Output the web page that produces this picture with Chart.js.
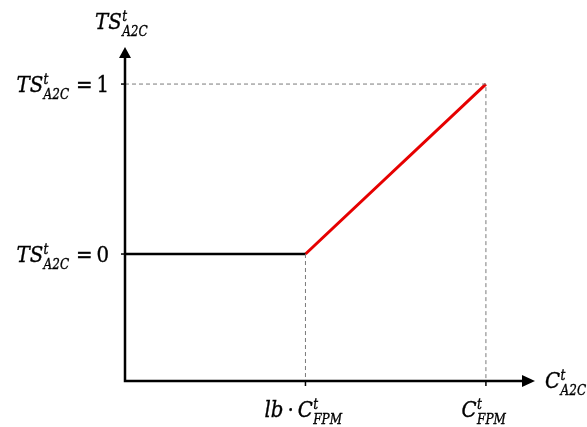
<!DOCTYPE html>
<html><head><meta charset="utf-8">
<script src="https://cdn.jsdelivr.net/npm/chart.js@4"></script>
<style>html,body{margin:0;padding:0;background:#fff}#wrap{width:587px;height:427px;position:relative}</style>
</head><body><div id="wrap"><canvas id="c"></canvas></div>
<script>
// ---- data ----
const xKeyValues = [0.5, 1];          // lb·C_FPM , C_FPM
const yKeyValues = [0, 1];            // TS = 0 , TS = 1
const xRange = [0, 1.136];
const yRange = [-0.747, 1.218];
const flatSegment = [{x: 0, y: 0}, {x: 0.5, y: 0}];
const rampSegment = [{x: 0.5, y: 0}, {x: 1, y: 1}];
const guideUpper = [{x: 0, y: 1}, {x: 1, y: 1}, {x: 1, y: yRange[0]}];
const guideLower = [{x: 0.5, y: 0}, {x: 0.5, y: yRange[0]}];
// label text parts: [text, role]  role: base | sup | sub | up(right)
const yAxisTitle = [['TS', 'base'], ['t', 'sup'], ['A2C', 'sub']];
const xAxisTitle = [['C', 'base'], ['t', 'sup'], ['A2C', 'sub']];
const yTickLabels = [
  [['TS', 'base'], ['t', 'sup'], ['A2C', 'sub'], [' =', 'up'], ['\u20090', 'up']],
  [['TS', 'base'], ['t', 'sup'], ['A2C', 'sub'], [' =', 'up'], ['\u20091', 'up']]
];
const xTickLabels = [
  [['lb', 'base'], ['\u2009·\u2009', 'up'], ['C', 'base'], ['t', 'sup'], ['FPM', 'sub']],
  [['C', 'base'], ['t', 'sup'], ['FPM', 'sub']]
];

const FAM = '"DejaVu Serif", serif';
const MAIN = 23, SMALL = 14, SQUEEZE = 0.86;
function layoutMath(ctx, parts, x, y, draw) {
  let cx = x, i = 0;
  while (i < parts.length) {
    const [t, r] = parts[i];
    if (r === 'sup' || r === 'sub') {
      let w = 0;
      let j = i;
      while (j < parts.length && (parts[j][1] === 'sup' || parts[j][1] === 'sub')) {
        const [tt, rr] = parts[j];
        ctx.font = 'italic ' + SMALL + 'px ' + FAM;
        const ww = ctx.measureText(tt).width;
        if (draw) {
          const yy = rr === 'sup' ? y - 8 : y + 7;
          ctx.fillText(tt, cx + 0.5, yy);
          ctx.strokeText(tt, cx + 0.5, yy);
        }
        w = Math.max(w, ww);
        j++;
      }
      cx += w + 1; i = j; continue;
    }
    ctx.font = (r === 'base' ? 'italic ' : '') + MAIN + 'px ' + FAM;
    if (draw) { ctx.fillText(t, cx, y); ctx.strokeText(t, cx, y); }
    cx += ctx.measureText(t).width;
    i++;
  }
  return cx - x;
}
function drawMath(ctx, parts, x, y, align) {
  const w = layoutMath(ctx, parts, 0, 0, false) * SQUEEZE;
  let sx = x;
  if (align === 'right') sx = x - w;
  else if (align === 'center') sx = x - w / 2;
  ctx.save();
  ctx.translate(sx, y);
  ctx.scale(SQUEEZE, 1);
  ctx.lineWidth = 0.35;
  ctx.strokeStyle = '#000';
  layoutMath(ctx, parts, 0, 0, true);
  ctx.restore();
}

const axesPlugin = {
  id: 'axesPlugin',
  afterDraw(chart) {
    const ctx = chart.ctx, xs = chart.scales.x, ys = chart.scales.y, a = chart.chartArea;
    const ox = xs.getPixelForValue(xRange[0]), oy = ys.getPixelForValue(yRange[0]);
    ctx.save();
    ctx.strokeStyle = '#000'; ctx.fillStyle = '#000'; ctx.lineWidth = 2.5;
    ctx.beginPath();
    ctx.moveTo(ox, a.top + 10); ctx.lineTo(ox, oy); ctx.lineTo(a.right - 12, oy);
    ctx.stroke();
    ctx.beginPath();
    ctx.moveTo(ox, a.top); ctx.lineTo(ox - 6, a.top + 11); ctx.lineTo(ox + 6, a.top + 11); ctx.closePath(); ctx.fill();
    ctx.beginPath();
    ctx.moveTo(a.right, oy); ctx.lineTo(a.right - 13, oy - 6); ctx.lineTo(a.right - 13, oy + 6); ctx.closePath(); ctx.fill();
    ctx.lineWidth = 1.5;
    yKeyValues.forEach(v => {
      const py = ys.getPixelForValue(v);
      ctx.beginPath(); ctx.moveTo(ox - 4, py); ctx.lineTo(ox, py); ctx.stroke();
    });
    xKeyValues.forEach(v => {
      const px = xs.getPixelForValue(v);
      ctx.beginPath(); ctx.moveTo(px, oy); ctx.lineTo(px, oy + 5); ctx.stroke();
    });
    ctx.textBaseline = 'alphabetic'; ctx.textAlign = 'left';
    yKeyValues.forEach((v, k) => {
      drawMath(ctx, yTickLabels[k], ox - 16, ys.getPixelForValue(v) + 8, 'right');
    });
    xKeyValues.forEach((v, k) => {
      drawMath(ctx, xTickLabels[k], xs.getPixelForValue(v) - 2, oy + 36, 'center');
    });
    drawMath(ctx, yAxisTitle, ox - 30, a.top - 18, 'left');
    drawMath(ctx, xAxisTitle, a.right + 10, oy + 7, 'left');
    ctx.restore();
  }
};

new Chart(document.getElementById('c'), {
  type: 'scatter',
  data: {
    datasets: [
      {data: guideUpper, showLine: true, borderColor: '#7a7a7a', borderWidth: 1, borderDash: [4, 3], pointRadius: 0, fill: false},
      {data: guideLower, showLine: true, borderColor: '#7a7a7a', borderWidth: 1, borderDash: [4, 3], pointRadius: 0, fill: false},
      {data: flatSegment, showLine: true, borderColor: '#000', borderWidth: 2.5, pointRadius: 0, fill: false},
      {data: rampSegment, showLine: true, borderColor: '#e60000', borderWidth: 3, pointRadius: 0, fill: false}
    ]
  },
  options: {
    responsive: true, maintainAspectRatio: false, animation: false,
    layout: {padding: {left: 125, right: 52, top: 47, bottom: 46}},
    plugins: {legend: {display: false}, tooltip: {enabled: false}},
    scales: {
      x: {type: 'linear', min: xRange[0], max: xRange[1], display: false},
      y: {type: 'linear', min: yRange[0], max: yRange[1], display: false}
    }
  },
  plugins: [axesPlugin]
});
</script></body></html>
